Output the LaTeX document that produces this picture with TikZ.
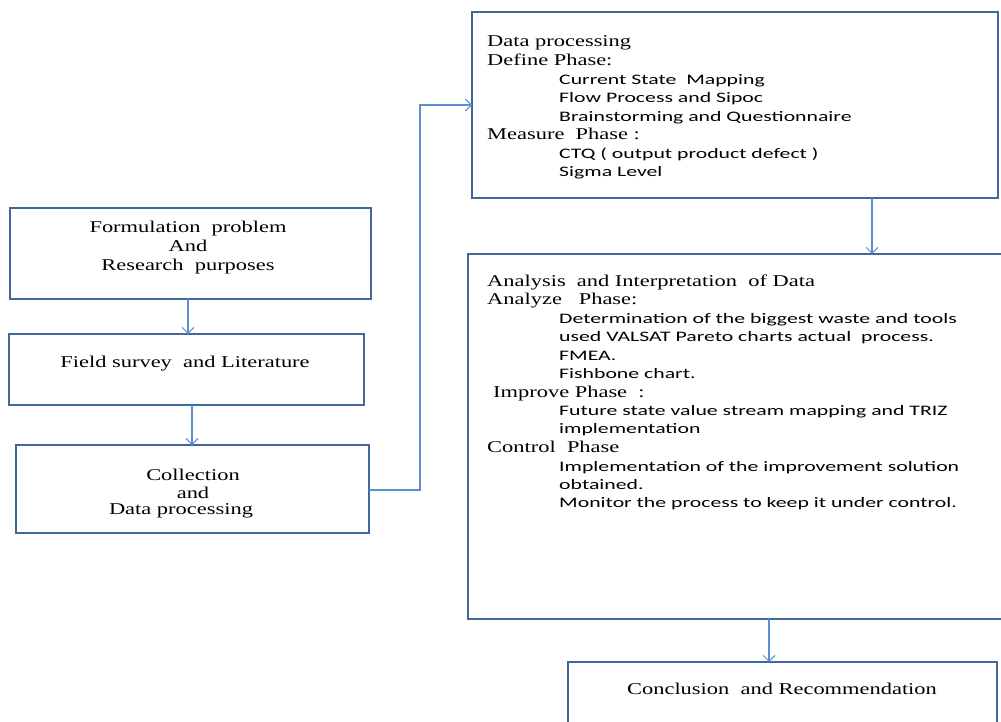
\documentclass[tikz,border=0pt]{standalone}
\usepackage{fontspec}
\setmainfont{Liberation Serif}[FakeStretch=1.36]
\newfontfamily\calfont{Carlito}[FakeStretch=1.5]
\usetikzlibrary{arrows.meta}
\definecolor{boxblue}{HTML}{41689A}
\definecolor{arrowblue}{HTML}{5B8FD0}
\tikzset{
  x=1pt, y=-1pt,
  box/.style={draw=boxblue, line width=2.2pt, fill=none},
  conn/.style={draw=arrowblue, line width=1.1pt, -{Straight Barb[length=6pt,width=12pt,line width=1pt]}},
  hd/.style={anchor=west, inner sep=0pt, font=\fontsize{16.5}{19}\selectfont, text height=13pt, text depth=2pt},
  it/.style={anchor=west, inner sep=0pt, font=\calfont\fontsize{14.5}{18}\selectfont, text height=12pt, text depth=1pt},
  ctr/.style={align=center, inner sep=0pt, font=\fontsize{16.5}{19}\selectfont, yshift=-2.5pt},
}
\begin{document}
\begin{tikzpicture}
\clip (0,0) rectangle (1001,722);
\fill[white] (0,0) rectangle (1001,722);
% left boxes
\draw[box] (10,208) rectangle (371,299);
\coordinate (b1s) at (188,299);
\draw[box] (9,334) rectangle (364,405);
\coordinate (b2n) at (188,334);
\coordinate (b2s) at (192,405);
\draw[box] (16,445) rectangle (369,533);
\coordinate (b3n) at (192,445);
\coordinate (b3e) at (369,490);
% right boxes
\draw[box] (472,12) rectangle (998,198);
\coordinate (b4w) at (472,105);
\coordinate (b4s) at (872,198);
\draw[box] (468,254) rectangle (1006,619);
\coordinate (b5n) at (872,254);
\coordinate (b5s) at (769,619);
\draw[box] (568,662) rectangle (997,740);
\coordinate (b6n) at (769,662);
\coordinate (bend1) at (420,490);
\coordinate (bend2) at (420,105);

% connectors
\draw[conn] (b1s) -- (b2n);
\draw[conn] (b2s) -- (b3n);
\draw[conn] (b3e) -- (bend1) -- (bend2) -- (b4w);
\draw[conn] (b4s) -- (b5n);
\draw[conn] (b5s) -- (b6n);

% left texts
\node[ctr] (t1) at (188,245) {Formulation\ \ problem\\And\\Research\ \ purposes};
\node[ctr] (t2) at (185,361) {Field survey\ \ and Literature};
\node[ctr] (t3a) at (193,472) {Collection};
\node[ctr] (t3b) at (193,490) {and};
\node[ctr] (t3c) at (181,508) {Data processing};
\node[ctr] (t6) at (782,686) {Conclusion\ \ and Recommendation};

% box 4 text
\node[hd] (d1) at (487,41) {Data processing};
\node[hd] (d2) at (487,60) {Define Phase:};
\node[it] (d3) at (559,79) {Current State\ \ Mapping};
\node[it] (d4) at (559,97) {Flow Process and Sipoc};
\node[it] (d5) at (559,116) {Brainstorming and Questionnaire};
\node[hd] (d6) at (487,134) {Measure\ \ Phase\ :};
\node[it] (d7) at (559,153) {CTQ ( output product defect )};
\node[it] (d8) at (559,171) {Sigma Level};

% box 5 text
\node[hd] (a1) at (487,281) {Analysis\ \ and Interpretation\ \ of Data};
\node[hd] (a2) at (487,299) {Analyze\ \ \ Phase:};
\node[it] (a3) at (559,318) {Determination of the biggest waste and tools};
\node[it] (a4) at (559,336) {used VALSAT Pareto charts actual\ \ process.};
\node[it] (a5) at (559,355) {FMEA.};
\node[it] (a6) at (559,373) {Fishbone chart.};
\node[hd] (a7) at (493,392) {Improve Phase\ \ :};
\node[it] (a8) at (559,410) {Future state value stream mapping and TRIZ};
\node[it] (a9) at (559,428) {implementation};
\node[hd] (a10) at (487,447) {Control\ \ Phase};
\node[it] (a11) at (559,466) {Implementation of the improvement solution};
\node[it] (a12) at (559,484) {obtained.};
\node[it] (a13) at (559,502) {Monitor the process to keep it under control.};
\end{tikzpicture}
\end{document}
